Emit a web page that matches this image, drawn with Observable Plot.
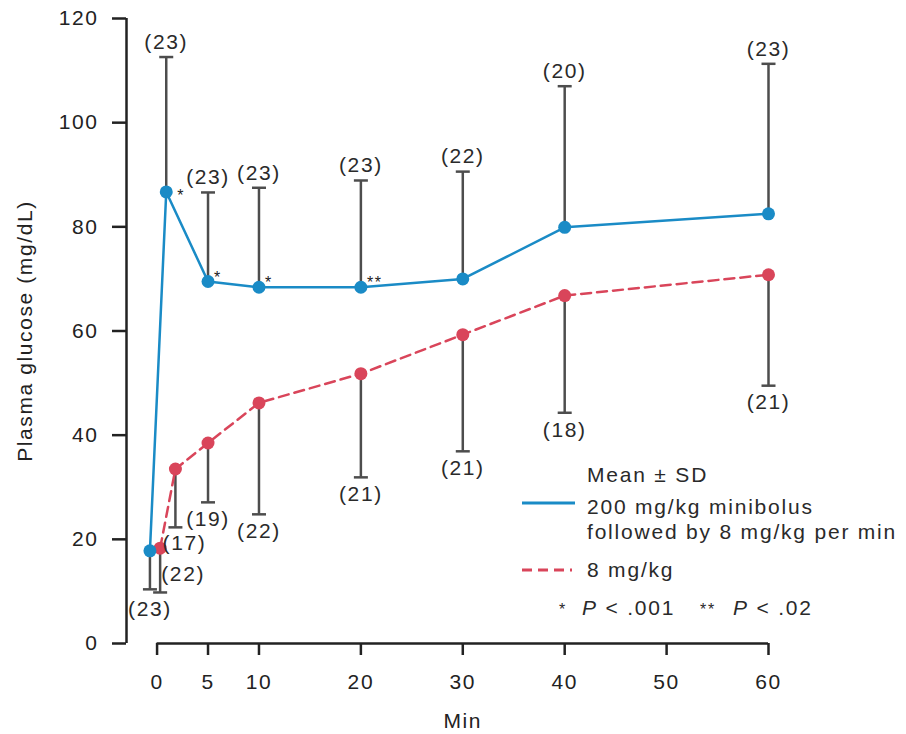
<!DOCTYPE html>
<html><head><meta charset="utf-8">
<script src="https://cdn.jsdelivr.net/npm/d3@7"></script>
<script src="https://cdn.jsdelivr.net/npm/@observablehq/plot@0.6"></script>
<style>
body{margin:0;background:#fff;}
#wrap{position:relative;width:906px;height:734px;font-family:"Liberation Sans",Arial,sans-serif;color:#2a2a2a;}
.lg{position:absolute;font-size:21px;letter-spacing:1.8px;line-height:25px;white-space:nowrap;}
.sw{position:absolute;}
</style></head><body><div id="wrap"></div>
<script>
// Data
const blueT = [-0.7, 0.9, 5, 10, 20, 30, 40, 60];
const blueMean = [17.8, 86.7, 69.5, 68.4, 68.4, 70.0, 79.9, 82.5];
const blueBarEnd = [10.4, 112.6, 86.6, 87.5, 88.9, 90.6, 107.0, 111.3];
const blueN = [23, 23, 23, 23, 23, 22, 20, 23];
const redT = [0.3, 1.8, 5, 10, 20, 30, 40, 60];
const redMean = [18.3, 33.5, 38.5, 46.2, 51.8, 59.3, 66.8, 70.8];
const redBarEnd = [9.8, 22.3, 27.1, 24.8, 31.9, 36.9, 44.3, 49.5];
const redN = [22, 17, 19, 22, 21, 21, 18, 21];
const starT = [0.9, 5, 10, 20];
const starMark = ["*", "*", "*", "**"];
const xTicks = [0, 5, 10, 20, 30, 40, 50, 60];
const yTicks = [0, 20, 40, 60, 80, 100, 120];
const xDomain = [-3, 60];
const yDomain = [0, 120];

const BLUE = "#1a8bc6", RED = "#d9455a", GREY = "#4d4d4d", INK = "#222";

const blue = blueT.map((t, i) => ({t, mean: blueMean[i], end: blueBarEnd[i], n: `(${blueN[i]})`, i}));
const red = redT.map((t, i) => ({t, mean: redMean[i], end: redBarEnd[i], n: `(${redN[i]})`, i}));
const stars = starT.map((t, i) => ({t, y: blueMean[blueT.indexOf(t)], s: starMark[i], i}));

const cap = {draw(ctx, size) { const w = Math.sqrt(size / Math.PI); ctx.moveTo(-w, 0); ctx.lineTo(w, 0); }};

const labelStyle = {fill: "#2a2a2a", fontSize: 21};

const chart = Plot.plot({
  width: 906, height: 734,
  marginTop: 18, marginBottom: 91, marginLeft: 126, marginRight: 138,
  x: {domain: xDomain},
  y: {domain: yDomain},
  style: {fontFamily: "'Liberation Sans', Arial, sans-serif", fontSize: "21px", letterSpacing: "1.6px", color: INK, background: "white", overflow: "visible"},
  marks: [
    Plot.ruleX([xDomain[0]], {y1: yDomain[0], y2: yDomain[1], stroke: INK, strokeWidth: 2.5}),
    Plot.ruleY([0], {x1: xTicks[0], x2: xTicks[xTicks.length - 1], stroke: INK, strokeWidth: 2.5}),
    Plot.axisY({ticks: yTicks, tickSize: 14, tickPadding: 14, strokeWidth: 2.5, label: null}),
    Plot.axisX({ticks: xTicks, tickSize: 12, tickPadding: 19, strokeWidth: 2.5, label: null}),
    Plot.text(["Min"], {x: (xTicks[0] + xTicks[xTicks.length - 1]) / 2, frameAnchor: "bottom", dy: 84, fill: INK}),
    Plot.text(["Plasma glucose (mg/dL)"], {frameAnchor: "left", textAnchor: "middle", rotate: -90, dx: -101, fill: INK}),
    // error bars
    Plot.ruleX(blue, {x: "t", y1: "mean", y2: "end", stroke: GREY, strokeWidth: 2.5}),
    Plot.ruleX(red, {x: "t", y1: "mean", y2: "end", stroke: GREY, strokeWidth: 2.5}),
    Plot.dot(blue, {x: "t", y: "end", r: 7, symbol: cap, stroke: GREY, fill: "none", strokeWidth: 2.5}),
    Plot.dot(red, {x: "t", y: "end", r: 7, symbol: cap, stroke: GREY, fill: "none", strokeWidth: 2.5}),
    // lines
    Plot.line(red, {x: "t", y: "mean", stroke: RED, strokeWidth: 2.5, strokeDasharray: "10,6"}),
    Plot.line(blue, {x: "t", y: "mean", stroke: BLUE, strokeWidth: 2.5}),
    Plot.dot(red, {x: "t", y: "mean", r: 6.5, fill: RED}),
    Plot.dot(blue, {x: "t", y: "mean", r: 6.5, fill: BLUE}),
    // sample sizes
    Plot.text(blue.filter(d => d.i > 0), {x: "t", y: "end", text: "n", dy: -15, ...labelStyle}),
    Plot.text(blue.filter(d => d.i === 0), {x: "t", y: "end", text: "n", dy: 20, ...labelStyle}),
    Plot.text(red.filter(d => d.i === 0), {x: "t", y: "end", text: "n", dx: 23, dy: -18, ...labelStyle}),
    Plot.text(red.filter(d => d.i === 1), {x: "t", y: "end", text: "n", dx: 9, dy: 16, ...labelStyle}),
    Plot.text(red.filter(d => d.i > 1), {x: "t", y: "end", text: "n", dy: 17, ...labelStyle}),
    // significance marks
    Plot.text(stars.filter(d => d.i === 0), {x: "t", y: "y", text: "s", dx: 11, dy: 4, textAnchor: "start", fontSize: 16, fill: INK}),
    Plot.text(stars.filter(d => d.i > 0), {x: "t", y: "y", text: "s", dx: 6, dy: -4, textAnchor: "start", fontSize: 16, fill: INK})
  ]
});
const wrap = document.getElementById("wrap");
wrap.appendChild(chart);

// Legend (inside plot area, as in the reference)
const legendHTML = `
<div class="lg" style="left:587px;top:462px">Mean ± SD</div>
<svg class="sw" style="left:522px;top:498px" width="56" height="10"><line x1="0" x2="53" y1="5" y2="5" stroke="${BLUE}" stroke-width="3"/></svg>
<div class="lg" style="left:587px;top:494px">200 mg/kg minibolus</div>
<div class="lg" style="left:587px;top:519px">followed by 8 mg/kg per min</div>
<svg class="sw" style="left:522px;top:565px" width="56" height="10"><line x1="0" x2="50" y1="5" y2="5" stroke="${RED}" stroke-width="3" stroke-dasharray="10,6"/></svg>
<div class="lg" style="left:587px;top:557px">8 mg/kg</div>
<div class="lg" style="left:559px;top:597px;font-size:16px">*</div>
<div class="lg" style="left:582px;top:595px"><i>P</i> &lt; .001</div>
<div class="lg" style="left:700px;top:597px;font-size:16px">**</div>
<div class="lg" style="left:733px;top:595px"><i>P</i> &lt; .02</div>`;
wrap.insertAdjacentHTML("beforeend", legendHTML);
</script></body></html>
